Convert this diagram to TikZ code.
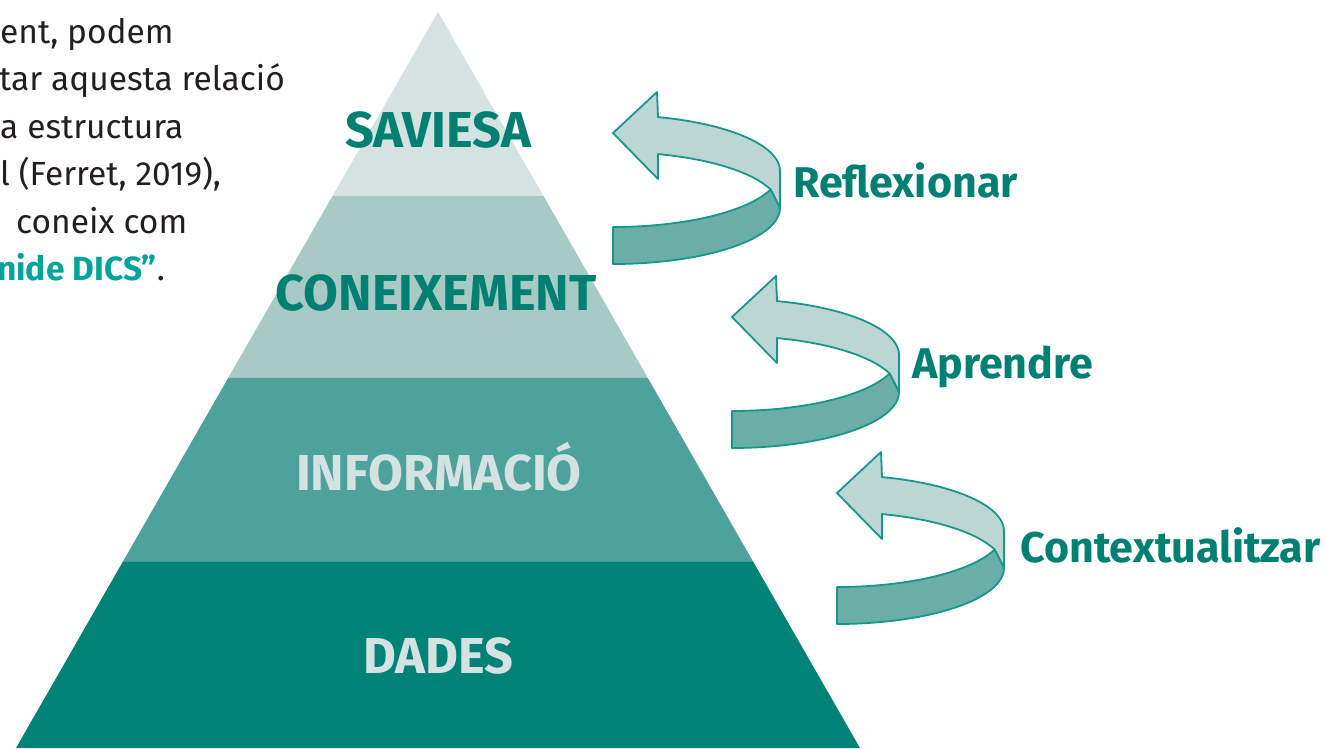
\documentclass[tikz,border=0pt]{standalone}
\usepackage{fontspec}
\setmainfont{Fira Sans}
\usetikzlibrary{calc,positioning}
\definecolor{lvA}{HTML}{D4E3E2}
\definecolor{lvB}{HTML}{A7CAC6}
\definecolor{lvC}{HTML}{4EA29C}
\definecolor{lvD}{HTML}{008276}
\definecolor{tealtext}{HTML}{008073}
\definecolor{accent}{HTML}{00A498}
\definecolor{bodygray}{HTML}{231F20}
\definecolor{twistline}{HTML}{17978C}
\definecolor{twistlight}{HTML}{BCD6D4}
\definecolor{twistdark}{HTML}{6BADA7}
\tikzset{
	level label/.style={font=\bfseries\fontsize{50.5}{50.5}\selectfont, text=#1,
		inner sep=0pt, anchor=base},
	step label/.style={font=\bfseries\fontsize{43}{43}\selectfont, text=tealtext,
		inner sep=0pt, anchor=base west},
	body/.style={font=\fontsize{33.5}{40}\selectfont, text=bodygray,
		inner sep=0pt, anchor=base west},
	twist back/.style={fill=twistlight, draw=twistline, line width=1.8pt, line join=round},
	twist front/.style={fill=twistdark, draw=twistline, line width=1.8pt, line join=round},
	twist arrow/.pic={
		\filldraw[twist back] (0,0) -- (44,-41) -- (45,-16)
			-- plot[domain=-74.4:0, samples=25, smooth] ({167*cos(\x)},{38+56*sin(\x)})
			-- (167,75) -- (157.6,56.5)
			-- plot[domain=-19.3:-74.4, samples=25, smooth] ({167*cos(\x)},{75+56*sin(\x)})
			-- (45,46) -- cycle;
		\filldraw[twist front]
			plot[domain=90:19.3, samples=25, smooth] ({167*cos(\x)},{38+56*sin(\x)})
			-- (167,75)
			-- plot[domain=0:90, samples=25, smooth] ({167*cos(\x)},{75+56*sin(\x)})
			-- cycle;
		\coordinate (-lab) at (180,64);
	}
}

\begin{document}
\begin{tikzpicture}[x=1pt, y=-1pt]
	\useasboundingbox (0,0) rectangle (1326,748);
	% pyramid
	\coordinate (apex) at (438,12);
	\coordinate (bl) at (16,748);
	\coordinate (br) at (860,748);
	\foreach \a/\b/\c in {0/.25/lvA, .25/.497/lvB, .497/.747/lvC, .747/1/lvD}
		\fill[\c] ($(apex)!\a!(bl)$) -- ($(apex)!\b!(bl)$) -- ($(apex)!\b!(br)$) -- ($(apex)!\a!(br)$) -- cycle;
	\node[level label=tealtext] (saviesa) at (438,147) {SAVIESA};
	\node[level label=tealtext] (coneixement) at (436,310) {CONEIXEMENT};
	\node[level label=lvA] (informacio) at (439,490) {INFORMACIÓ};
	\node[level label=lvA] (dades) at (438,673) {DADES};

	% arrows
	\pic (arrA) at (613,133) {twist arrow};
	\pic (arrB) at (732,317) {twist arrow};
	\pic (arrC) at (837,493) {twist arrow};
	\node[step label] (reflexionar) at (arrA-lab) {Reflexionar};
	\node[step label] (aprendre) at ($(arrB-lab)+(0,-3)$) {Aprendre};
	\node[step label] (contextualitzar) at ($(arrC-lab)+(3,5)$) {Contextualitzar};

	% text
	\node[body] (line1) at (0,43) {ent, podem};
	\node[body] (line2) at (-1,90) {tar aquesta relació};
	\node[body] (line3) at (0,138) {a estructura};
	\node[body] (line4) at (0,185) {l (Ferret, 2019),};
	\node[body] (line5) at (16,233) {coneix com};
	\node[body] (line6) at (-3,280) {{\bfseries\color{accent}nide DICS”}.};
\end{tikzpicture}
\end{document}
